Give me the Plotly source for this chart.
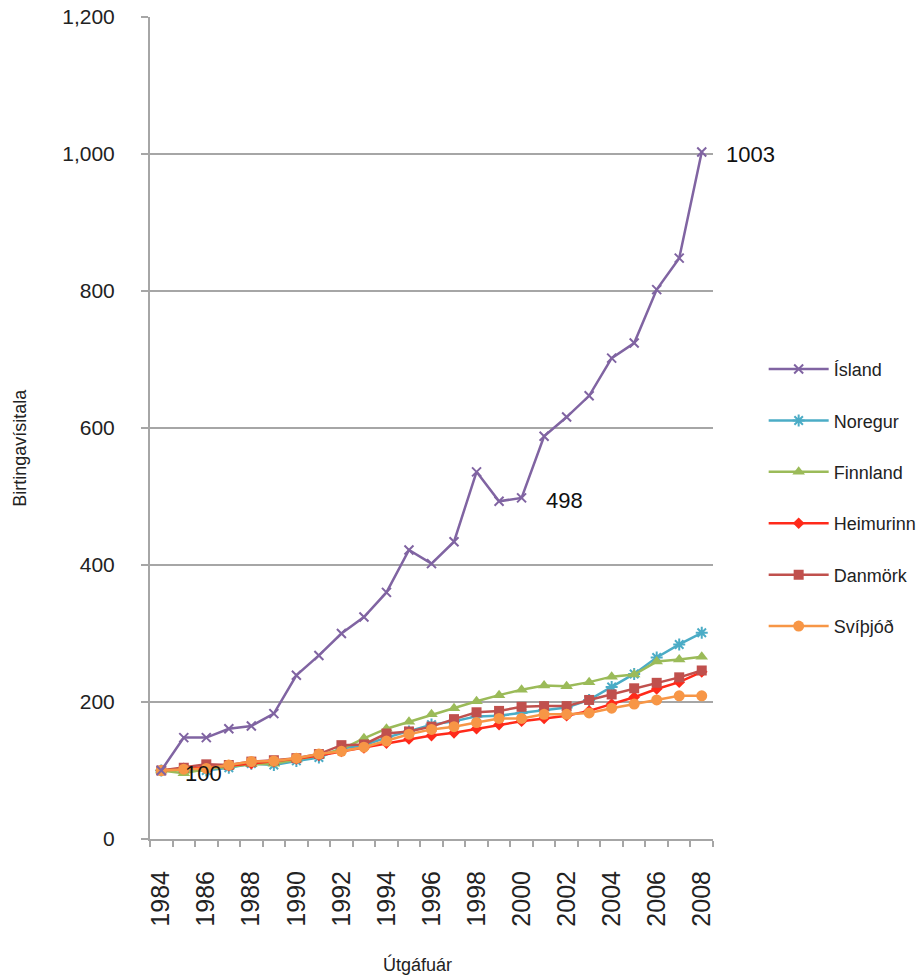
import plotly.graph_objects as go

years = list(range(1984, 2009))

island = [100, 148, 148, 161, 165, 183, 239, 268, 300, 324, 360, 422, 402, 434,
          536, 493, 498, 588, 616, 647, 702, 724, 802, 848, 1003]
noregur = [100, 101, 100, 104, 110, 108, 114, 119, 132, 137, 148, 157, 167, 172,
           179, 180, 184, 188, 192, 203, 222, 241, 265, 284, 301]
finnland = [100, 96, 102, 106, 109, 110, 116, 122, 131, 147, 161, 171, 182, 191,
            201, 210, 218, 224, 223, 229, 237, 240, 259, 262, 266]
heimurinn = [100, 103, 105, 107, 110, 113, 117, 122, 128, 133, 140, 146, 151, 155,
             161, 167, 172, 176, 180, 187, 197, 207, 219, 229, 244]
danmork = [100, 104, 109, 108, 113, 115, 118, 124, 137, 138, 154, 157, 164, 175,
           185, 187, 193, 194, 194, 203, 211, 220, 228, 236, 246]
svithjod = [100, 102, 103, 108, 113, 114, 118, 124, 128, 134, 143, 153, 160, 164,
            170, 176, 176, 182, 182, 184, 191, 197, 203, 209, 209]

series_names = ["Ísland", "Noregur", "Finnland", "Heimurinn", "Danmörk", "Svíþjóð"]
series_values = [island, noregur, finnland, heimurinn, danmork, svithjod]

styles = {
    "Ísland": dict(color="#8064A2", symbol="x-thin-open", size=9, mlw=2),
    "Noregur": dict(color="#4BACC6", symbol="asterisk-open", size=10, mlw=2),
    "Finnland": dict(color="#9BBB59", symbol="triangle-up", size=11, mlw=0),
    "Heimurinn": dict(color="#FF2A1A", symbol="diamond", size=9, mlw=0),
    "Danmörk": dict(color="#C0504D", symbol="square", size=10, mlw=0),
    "Svíþjóð": dict(color="#F79646", symbol="circle", size=11, mlw=0),
}

# Draw order: Ísland on top of the cluster, the rest underneath
draw_order = ["Noregur", "Finnland", "Heimurinn", "Danmörk", "Svíþjóð", "Ísland"]
legend_rank = {n: i for i, n in enumerate(series_names)}

fig = go.Figure()
for name in draw_order:
    vals = series_values[series_names.index(name)]
    s = styles[name]
    fig.add_trace(go.Scatter(
        x=years, y=vals, name=name, mode="lines+markers",
        legendgroup=name,
        line=dict(color=s["color"], width=2.5),
        marker=dict(symbol=s["symbol"], size=s["size"], color=s["color"],
                    line=dict(color=s["color"], width=s["mlw"])),
        legendrank=legend_rank[name],
    ))

# Value labels on selected Ísland points
for yr in (1984, 2000, 2008):
    v = island[years.index(yr)]
    fig.add_annotation(x=yr, y=v, text=str(v), showarrow=False,
                       xanchor="left", yanchor="middle", xshift=22, yshift=-3,
                       font=dict(family="Liberation Sans", size=22, color="#111111"))

# Axis titles
fig.add_annotation(text="Útgáfuár", xref="paper", yref="paper", x=0.476, y=-0.153,
                   showarrow=False, xanchor="center", yanchor="middle",
                   font=dict(size=18, color="#222222"))
fig.add_annotation(text="Birtingavísitala", xref="paper", yref="paper", x=-0.231, y=0.476,
                   showarrow=False, xanchor="center", yanchor="middle", textangle=-90,
                   font=dict(size=18, color="#222222"))

tick_years = years[::2]

fig.update_layout(
    width=923, height=976,
    margin=dict(l=150, r=210, t=17, b=137, autoexpand=False),
    paper_bgcolor="white", plot_bgcolor="white",
    font=dict(family="Liberation Sans", color="#333333"),
    showlegend=True,
    legend=dict(x=1.09, y=0.415, xanchor="left", yanchor="middle",
                font=dict(size=18, color="#222222"),
                itemwidth=60, tracegroupgap=25, bgcolor="rgba(0,0,0,0)"),
    xaxis=dict(
        range=[1983.5, 2008.5], tickmode="array", tickvals=tick_years,
        ticktext=[str(y) for y in tick_years], tickangle=-90,
        ticks="", showgrid=False, zeroline=False,
        showline=True, linecolor="#A6A6A6", linewidth=2,
        tickfont=dict(size=25, color="#222222"),
        ticklabelstandoff=20,
        minor=dict(ticks="outside", tick0=1983.5, dtick=1, ticklen=6,
                   tickcolor="#A6A6A6", tickwidth=1.5, showgrid=False),
    ),
    yaxis=dict(
        range=[0, 1200], tickmode="array", tickvals=[0, 200, 400, 600, 800, 1000, 1200],
        tickformat=",", ticks="outside", ticklen=7, tickcolor="#A6A6A6", tickwidth=1.5,
        showgrid=True, gridcolor="#A6A6A6", gridwidth=2, zeroline=False,
        showline=True, linecolor="#A6A6A6", linewidth=2,
        tickfont=dict(size=21, color="#222222"),
        ticklabelstandoff=22,
    ),
)

fig.write_html("out.html")
